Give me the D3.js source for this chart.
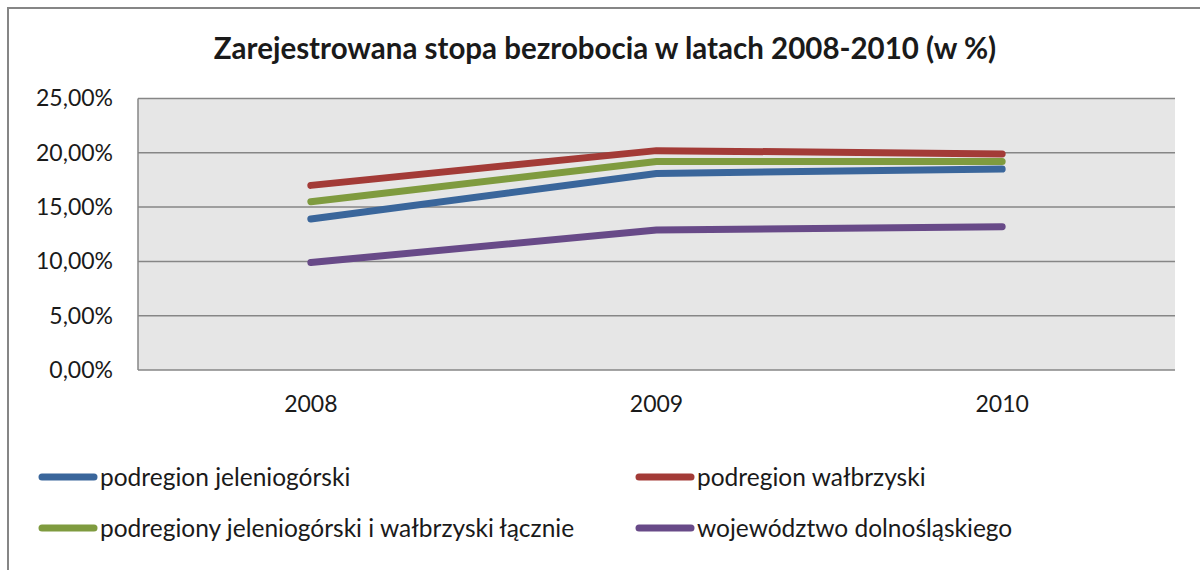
<!DOCTYPE html>
<html><head><meta charset="utf-8">
<script src="https://cdn.jsdelivr.net/npm/d3@7"></script>
<style>
html,body{margin:0;padding:0;background:#fff;}
text{font-family:Lato,"Open Sans",sans-serif;fill:#1a1a1a;}
</style></head>
<body><svg id="c" width="1200" height="570"></svg>
<script>
const title = "Zarejestrowana stopa bezrobocia w latach 2008-2010 (w %)";
const years = ["2008","2009","2010"];
const yTicks = [0,5,10,15,20,25];
const seriesNames = ["podregion jeleniogórski","podregion wałbrzyski","podregiony jeleniogórski i wałbrzyski łącznie","województwo dolnośląskiego"];
const seriesColors = ["#3A669B","#A33B37","#7F9B3F","#684A88"];
const jeleniogorski = [13.9,18.1,18.5];
const walbrzyski = [17.0,20.2,19.9];
const lacznie = [15.5,19.2,19.2];
const wojewodztwo = [9.9,12.9,13.2];
const seriesValues = [jeleniogorski, walbrzyski, lacznie, wojewodztwo];

const svg = d3.select("#c");
svg.append("rect").attr("x",8).attr("y",8).attr("width",1300).attr("height",700)
  .attr("fill","#fff").attr("stroke","#868686").attr("stroke-width",2);

const L=138, R=1175, T=98.5, B=370;
const x = d3.scaleBand().domain(years).range([L,R]);
const y = d3.scaleLinear().domain([0,25]).range([B,T]);

svg.append("rect").attr("x",L).attr("y",T).attr("width",R-L).attr("height",B-T).attr("fill","#E6E6E6");

// gridlines
svg.append("g").selectAll("line").data(yTicks).join("line")
  .attr("x1",L).attr("x2",R).attr("y1",d=>y(d)).attr("y2",d=>y(d))
  .attr("stroke","#868686").attr("stroke-width",1.5);
svg.append("line").attr("x1",L).attr("x2",L).attr("y1",T).attr("y2",B)
  .attr("stroke","#868686").attr("stroke-width",1.5);

// y axis labels
const fmt = d => d3.format(".2f")(d).replace(".",",")+"%";
const yAxis = d3.axisLeft(y).tickValues(yTicks).tickFormat(fmt).tickSize(0).tickPadding(25);
const gy = svg.append("g").attr("transform",`translate(${L},0)`).call(yAxis);
gy.select(".domain").remove();
gy.selectAll("text").attr("font-size",23).attr("font-family","Lato").attr("fill","#1a1a1a");

// x axis labels
const xAxis = d3.axisBottom(x).tickSize(0).tickPadding(26);
const gx = svg.append("g").attr("transform",`translate(0,${B})`).call(xAxis);
gx.select(".domain").remove();
gx.selectAll("text").attr("font-size",23).attr("font-family","Lato").attr("fill","#1a1a1a");

// lines
const line = d3.line().x((d,i)=>x(years[i])+x.bandwidth()/2).y(d=>y(d));
svg.append("g").selectAll("path").data(seriesValues).join("path")
  .attr("d",line).attr("fill","none")
  .attr("stroke",(d,i)=>seriesColors[i]).attr("stroke-width",7)
  .attr("stroke-linecap","round").attr("stroke-linejoin","round");

// title
svg.append("text").attr("x",605).attr("y",59).attr("text-anchor","middle")
  .attr("font-size",29.5).attr("font-weight","bold").attr("fill","#000").text(title);

// legend
const legPos = [[42,477],[639,477],[42,528],[639,528]];
const lg = svg.append("g").selectAll("g").data(seriesNames).join("g")
  .attr("transform",(d,i)=>`translate(${legPos[i][0]},${legPos[i][1]})`);
lg.append("line").attr("x1",0).attr("x2",52).attr("y1",0).attr("y2",0)
  .attr("stroke",(d,i)=>seriesColors[i]).attr("stroke-width",7).attr("stroke-linecap","round");
lg.append("text").attr("x",58).attr("y",8.5).attr("font-size",24.5).text(d=>d);
</script></body></html>
